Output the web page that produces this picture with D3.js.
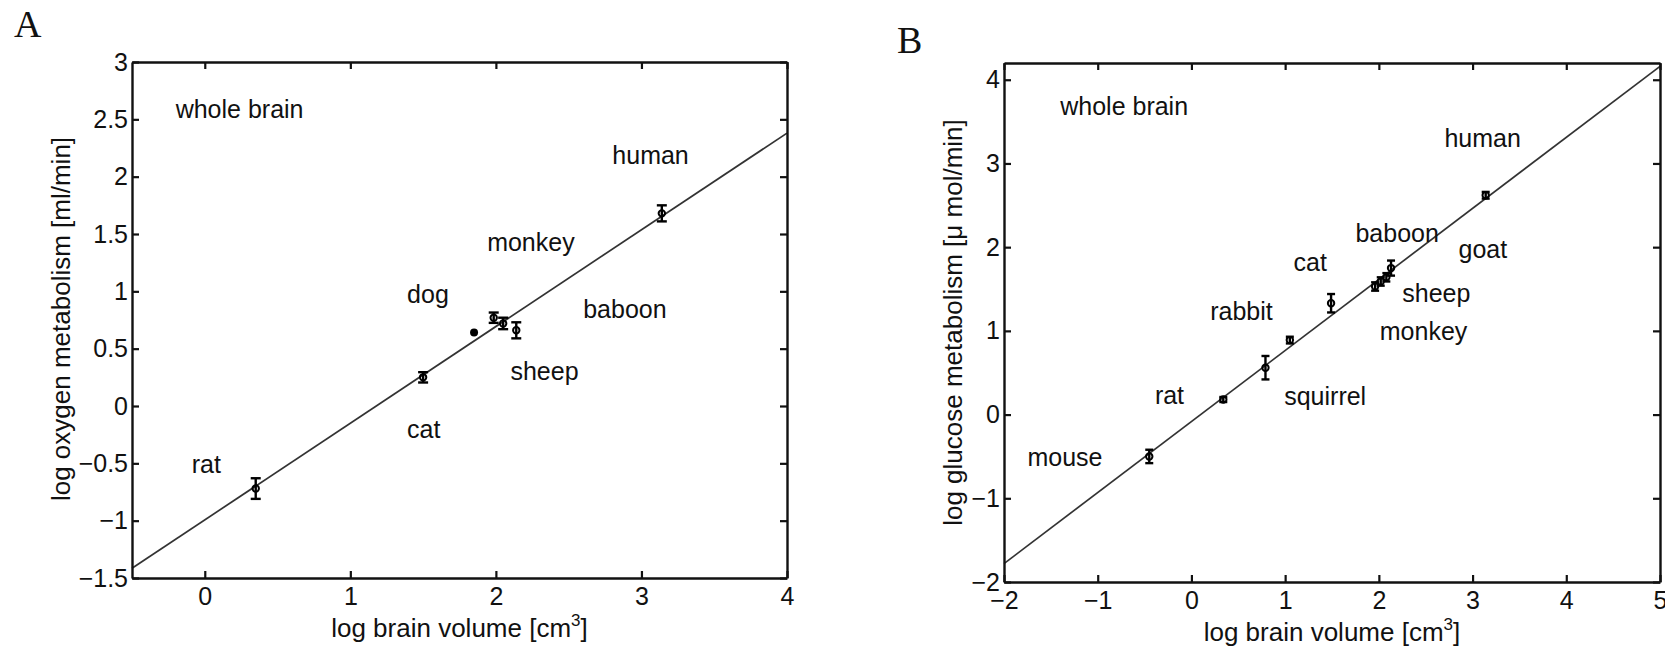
<!DOCTYPE html>
<html>
<head>
<meta charset="utf-8">
<script src="https://cdnjs.cloudflare.com/ajax/libs/d3/7.8.5/d3.min.js"></script>
<style>
  html, body { margin: 0; padding: 0; background: #fff; }
  svg { display: block; }
  text { font-family: "Liberation Sans", Arial, Helvetica, sans-serif; fill: #111; }
</style>
</head>
<body>
<svg id="chart" width="1665" height="650"></svg>
<script>
// ---------------- Panel A data: oxygen metabolism ----------------
const speciesA = ["rat", "cat", "dog", "monkey", "baboon", "sheep", "human"];
const logVolA  = [0.35, 1.50, 1.85, 1.985, 2.05, 2.14, 3.14];
const logO2A   = [-0.72, 0.25, 0.64, 0.77, 0.72, 0.66, 1.68];
const errA     = [0.09, 0.045, 0.0, 0.045, 0.05, 0.07, 0.07];
// text annotations in data coordinates
const labelTextA = ["whole brain", "human", "monkey", "dog", "baboon", "sheep", "cat", "rat"];
const labelXA    = [-0.20, 2.80, 1.94, 1.39, 2.60, 2.10, 1.39, -0.09];
const labelYA    = [2.51, 2.11, 1.35, 0.90, 0.77, 0.23, -0.28, -0.58];
// fitted line (x, y) end points
const fitXA = [-0.5, 4];
const fitYA = [-1.415, 2.38];
const xDomainA = [-0.5, 4];
const yDomainA = [-1.5, 3];
const xTicksA = [0, 1, 2, 3, 4];
const yTicksA = [-1.5, -1, -0.5, 0, 0.5, 1, 1.5, 2, 2.5, 3];

// ---------------- Panel B data: glucose metabolism ----------------
const speciesB = ["mouse", "rat", "squirrel", "rabbit", "cat", "monkey", "sheep", "goat", "baboon", "human"];
const logVolB  = [-0.45, 0.34, 0.79, 1.05, 1.49, 1.96, 2.02, 2.08, 2.13, 3.14];
const logGluB  = [-0.50, 0.18, 0.56, 0.89, 1.33, 1.53, 1.59, 1.64, 1.75, 2.62];
const errB     = [0.08, 0.03, 0.14, 0.04, 0.11, 0.05, 0.05, 0.05, 0.09, 0.04];
const labelTextB = ["whole brain", "human", "baboon", "goat", "cat", "sheep", "rabbit", "monkey", "squirrel", "rat", "mouse"];
const labelXB    = [-1.40, 2.70, 1.75, 2.85, 1.09, 2.25, 0.20, 2.01, 0.99, -0.39, -1.75];
const labelYB    = [3.58, 3.20, 2.06, 1.87, 1.71, 1.34, 1.13, 0.89, 0.11, 0.13, -0.62];
const fitXB = [-2, 5];
const fitYB = [-1.78, 4.16];
const xDomainB = [-2, 5];
const yDomainB = [-2, 4.2];
const xTicksB = [-2, -1, 0, 1, 2, 3, 4, 5];
const yTicksB = [-2, -1, 0, 1, 2, 3, 4];

const svg = d3.select("#chart");
svg.append("rect").attr("width", 1665).attr("height", 650).attr("fill", "#fff");

const fmt = v => String(v).replace("-", "\u2212");

function panel(cfg) {
  const g = svg.append("g");
  const x = d3.scaleLinear().domain(cfg.xDomain).range([cfg.left, cfg.right]);
  const y = d3.scaleLinear().domain(cfg.yDomain).range([cfg.bottom, cfg.top]);

  // fitted line
  g.append("line")
    .attr("x1", x(cfg.fitX[0])).attr("y1", y(cfg.fitY[0]))
    .attr("x2", x(cfg.fitX[1])).attr("y2", y(cfg.fitY[1]))
    .attr("stroke", "#333").attr("stroke-width", 1.7);

  // axes
  const tick = 7;
  const styleAxis = sel => {
    sel.select(".domain").attr("stroke", "#111").attr("stroke-width", 2.4);
    sel.selectAll(".tick line").attr("stroke", "#111").attr("stroke-width", 2.2);
    sel.selectAll(".tick text").style("font-size", "25px").attr("fill", "#111")
       .style("font-family", "'Liberation Sans', Arial, sans-serif");
  };
  g.append("g").attr("transform", `translate(0,${cfg.bottom})`)
    .call(d3.axisBottom(x).tickValues(cfg.xTicks).tickFormat(fmt).tickSize(-tick).tickSizeOuter(0).tickPadding(cfg.xPad))
    .call(styleAxis);
  g.append("g").attr("transform", `translate(0,${cfg.top})`)
    .call(d3.axisTop(x).tickValues(cfg.xTicks).tickFormat("").tickSize(-tick).tickSizeOuter(0))
    .call(styleAxis);
  g.append("g").attr("transform", `translate(${cfg.left},0)`)
    .call(d3.axisLeft(y).tickValues(cfg.yTicks).tickFormat(fmt).tickSize(-tick).tickSizeOuter(0).tickPadding(4))
    .call(styleAxis);
  g.append("g").attr("transform", `translate(${cfg.right},0)`)
    .call(d3.axisRight(y).tickValues(cfg.yTicks).tickFormat("").tickSize(-tick).tickSizeOuter(0))
    .call(styleAxis);
  g.selectAll(".domain").attr("fill", "none");

  // error bars + markers
  const pts = g.append("g");
  cfg.xs.forEach((xv, i) => {
    const cx = x(xv), cy = y(cfg.ys[i]);
    const e = cfg.errs[i];
    if (e > 0) {
      const y1 = y(cfg.ys[i] + e), y2 = y(cfg.ys[i] - e);
      pts.append("line").attr("x1", cx).attr("x2", cx).attr("y1", y1).attr("y2", y2)
        .attr("stroke", "#000").attr("stroke-width", 2.4);
      [y1, y2].forEach(yy => pts.append("line")
        .attr("x1", cx - cfg.cap).attr("x2", cx + cfg.cap).attr("y1", yy).attr("y2", yy)
        .attr("stroke", "#000").attr("stroke-width", 2.4));
      pts.append("circle").attr("cx", cx).attr("cy", cy).attr("r", 3.2)
        .attr("fill", "none").attr("stroke", "#000").attr("stroke-width", 2);
    } else {
      pts.append("circle").attr("cx", cx).attr("cy", cy).attr("r", 4).attr("fill", "#000");
    }
  });

  // annotations
  cfg.labels.forEach((t, i) => {
    g.append("text").attr("x", x(cfg.labelX[i])).attr("y", y(cfg.labelY[i]))
      .style("font-size", "25px").text(t);
  });

  // x label
  const xl = g.append("text").attr("x", (cfg.left + cfg.right) / 2).attr("y", cfg.xLabelY)
    .attr("text-anchor", "middle").style("font-size", "26px");
  xl.append("tspan").text("log brain volume [cm");
  xl.append("tspan").attr("dy", -11).style("font-size", "17px").text("3");
  xl.append("tspan").attr("dy", 11).text("]");

  // y label
  g.append("text")
    .attr("transform", `translate(${cfg.yLabelX},${(cfg.top + cfg.bottom) / 2 + cfg.yLabelShift}) rotate(-90)`)
    .attr("text-anchor", "middle").style("font-size", "26px").text(cfg.yLabel);

  // panel letter
  g.append("text").attr("x", cfg.letterX).attr("y", cfg.letterY)
    .style("font-family", "'Liberation Serif', 'Times New Roman', serif")
    .style("font-size", "38px").text(cfg.letter);
}

panel({
  left: 132, right: 787, top: 62, bottom: 578,
  xDomain: xDomainA, yDomain: yDomainA, xTicks: xTicksA, yTicks: yTicksA,
  xs: logVolA, ys: logO2A, errs: errA, cap: 5,
  fitX: fitXA, fitY: fitYA,
  labels: labelTextA, labelX: labelXA, labelY: labelYA,
  xPad: 9, xLabelY: 637,
  yLabel: "log oxygen metabolism [ml/min]", yLabelX: 70, yLabelShift: -1,
  letter: "A", letterX: 14, letterY: 37
});

panel({
  left: 1004, right: 1660, top: 63, bottom: 582,
  xDomain: xDomainB, yDomain: yDomainB, xTicks: xTicksB, yTicks: yTicksB,
  xs: logVolB, ys: logGluB, errs: errB, cap: 4,
  fitX: fitXB, fitY: fitYB,
  labels: labelTextB, labelX: labelXB, labelY: labelYB,
  xPad: 9, xLabelY: 641,
  yLabel: "log glucose metabolism [\u03bc mol/min]", yLabelX: 962, yLabelShift: 0,
  letter: "B", letterX: 897, letterY: 53
});
</script>
</body>
</html>
